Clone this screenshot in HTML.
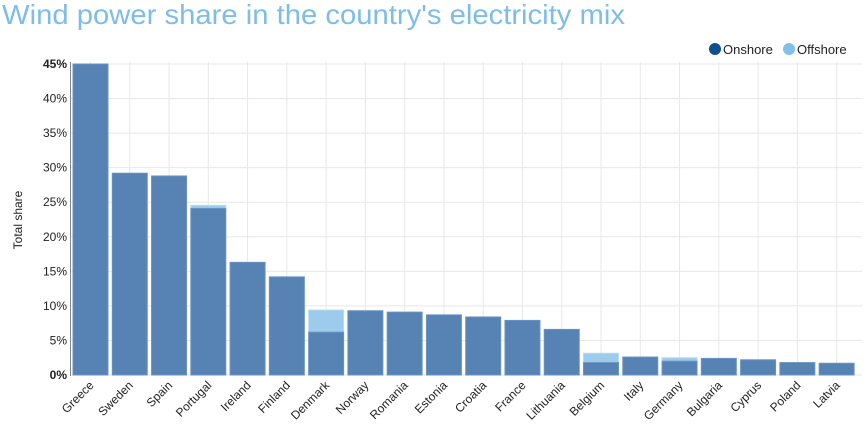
<!DOCTYPE html>
<html><head><meta charset="utf-8"><style>
body{margin:0;background:#fff;}
svg{display:block;font-family:"Liberation Sans",Arial,sans-serif;}
</style></head><body>
<svg width="868" height="436" viewBox="0 0 868 436">
<text x="2" y="24" font-size="28" fill="#7dbde8" textLength="623" lengthAdjust="spacingAndGlyphs">Wind power share in the country's electricity mix</text>
<circle cx="715" cy="49" r="6" fill="#0d4f91"/>
<text x="723" y="54" font-size="13" fill="#222">Onshore</text>
<circle cx="789" cy="49" r="6" fill="#7fc1ec"/>
<text x="797" y="54" font-size="13" fill="#222">Offshore</text>
<g id="grid" stroke="#e8e8e8" stroke-width="1"></g>
<line x1="70.5" y1="62" x2="70.5" y2="376" stroke="#888"/>
<g id="bars"></g>
<g id="ylab" font-size="12" fill="#222" text-anchor="end"></g>
<g id="xlab" font-size="12" fill="#222" text-anchor="end"></g>
<text transform="translate(22,220) rotate(-90)" font-size="12" fill="#222" text-anchor="middle">Total share</text>
</svg>
<script>
var ns="http://www.w3.org/2000/svg";
function el(p,t,a,txt){var e=document.createElementNS(ns,t);for(var k in a)e.setAttribute(k,a[k]);if(txt)e.textContent=txt;document.getElementById(p).appendChild(e);}
var d=[["Greece",45,0],["Sweden",29.2,0],["Spain",28.8,0],["Portugal",24.1,0.45],["Ireland",16.3,0],["Finland",14.2,0],["Denmark",6.2,3.2],["Norway",9.3,0],["Romania",9.1,0],["Estonia",8.7,0],["Croatia",8.4,0],["France",7.9,0],["Lithuania",6.6,0],["Belgium",1.8,1.35],["Italy",2.6,0],["Germany",2.0,0.5],["Bulgaria",2.4,0],["Cyprus",2.2,0],["Poland",1.8,0],["Latvia",1.7,0]];
var y0=375,s=6.911,pitch=39.27,x0=73,w=35;
for(var i=0;i<=9;i++){var y=y0-i*5*s;el("grid","line",{x1:71,x2:862,y1:y,y2:y});el("ylab","text",{x:67,y:y+4,"font-weight":(i==0||i==9)?"bold":"normal"},(i*5)+"%");}
d.forEach(function(r,i){var x=x0+i*pitch,cx=x+w/2;
el("grid","line",{x1:cx,x2:cx,y1:62,y2:375});
var h1=r[1]*s,h2=r[2]*s;
if(r[2])el("bars","rect",{x:x,y:y0-h1-h2,width:w,height:h2,fill:"#9ccbec",stroke:"#b8dbf3","stroke-width":1});
el("bars","rect",{x:x,y:y0-h1,width:w,height:h1,fill:"#5782b4",stroke:"#6b93c0","stroke-width":1});
el("xlab","text",{transform:"translate("+(cx+4)+",386) rotate(-45)"},r[0]);});
</script>
</body></html>
